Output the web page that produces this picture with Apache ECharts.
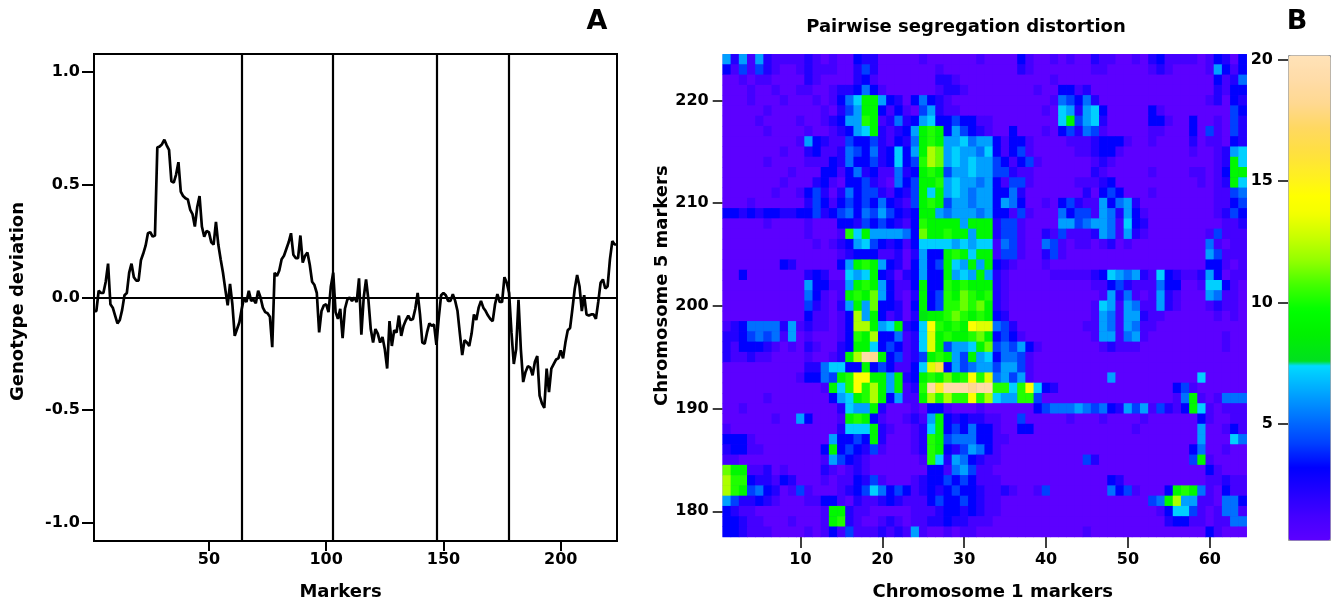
<!DOCTYPE html>
<html><head><meta charset="utf-8">
<script src="https://cdn.jsdelivr.net/npm/echarts@6/dist/echarts.min.js"></script>
<style>html,body{margin:0;padding:0;background:#fff}#c{width:1334px;height:606px}</style>
</head><body><div id="c"></div>
<script>
const FONT = 'DejaVu Sans';

// ---------- Panel A: genotype deviation along markers 1..224 ----------
const genotypeDeviation = [
 -0.06,-0.06,0.03,0.02,0.02,0.07,0.15,-0.03,-0.045,-0.08,
 -0.115,-0.10,-0.055,0.01,0.02,0.11,0.15,0.09,0.075,0.075,
 0.165,0.195,0.23,0.285,0.29,0.27,0.275,0.665,0.67,0.68,
 0.70,0.675,0.655,0.515,0.51,0.545,0.60,0.47,0.45,0.44,
 0.435,0.39,0.37,0.315,0.40,0.45,0.315,0.27,0.295,0.29,
 0.245,0.235,0.335,0.235,0.17,0.11,0.035,-0.035,0.06,-0.03,
 -0.17,-0.14,-0.11,-0.05,0.0,-0.02,0.03,-0.015,-0.01,-0.025,
 0.03,0.0,-0.045,-0.065,-0.07,-0.085,-0.22,0.11,0.095,0.12,
 0.17,0.185,0.215,0.245,0.285,0.19,0.175,0.175,0.275,0.155,
 0.185,0.20,0.145,0.07,0.055,0.02,-0.155,-0.06,-0.035,-0.03,
 -0.065,0.05,0.11,-0.065,-0.095,-0.05,-0.18,-0.05,-0.01,0.0,
 -0.015,0.0,-0.02,0.085,-0.165,0.0,0.08,-0.01,-0.14,-0.20,
 -0.14,-0.16,-0.20,-0.175,-0.23,-0.315,-0.105,-0.215,-0.145,-0.155,
 -0.08,-0.17,-0.125,-0.10,-0.08,-0.10,-0.095,-0.05,0.02,-0.075,
 -0.20,-0.205,-0.155,-0.115,-0.125,-0.12,-0.21,-0.09,0.01,0.02,
 0.01,-0.015,-0.015,0.015,-0.015,-0.06,-0.16,-0.255,-0.19,-0.20,
 -0.215,-0.16,-0.075,-0.10,-0.045,-0.015,-0.045,-0.06,-0.08,-0.095,
 -0.105,-0.03,0.015,-0.02,-0.02,0.09,0.065,0.02,-0.155,-0.295,
 -0.23,-0.01,-0.23,-0.375,-0.33,-0.305,-0.31,-0.345,-0.285,-0.26,
 -0.435,-0.47,-0.49,-0.315,-0.42,-0.315,-0.295,-0.275,-0.27,-0.235,
 -0.27,-0.20,-0.145,-0.135,-0.05,0.04,0.10,0.05,-0.06,0.01,
 -0.075,-0.08,-0.075,-0.075,-0.095,-0.02,0.065,0.08,0.04,0.05,
 0.17,0.25,0.235,0.235
];
const chromosomeBoundaries = [64.2, 103, 147.2, 178];
const markerTicks = [50, 100, 150, 200];
const deviationTicks = [-1, -0.5, 0, 0.5, 1];

// ---------- Panel B: pairwise segregation distortion ----------
const chr1Markers = [1,2,3,4,5,6,7,8,9,10,11,12,13,14,15,16,17,18,19,20,21,22,23,24,25,26,27,28,29,30,31,32,
  33,34,35,36,37,38,39,40,41,42,43,44,45,46,47,48,49,50,51,52,53,54,55,56,57,58,59,60,61,62,63,64];
const chr5Markers = [178,179,180,181,182,183,184,185,186,187,188,189,190,191,192,193,194,195,196,197,198,199,200,
  201,202,203,204,205,206,207,208,209,210,211,212,213,214,215,216,217,218,219,220,221,222,223,224];
// rows listed from chromosome-5 marker 224 (top) down to 178 (bottom); 64 chromosome-1 markers per row
const distortionRows = [
 [6,2,6,1,6,2,1,1, 1,1,2,1,0,1,0,0, 3,2,2,0,0,0,0,0, 1,0,0,0,0,0,0,1, 0,0,0,0,3,1,0,0, 1,0,1,0,0,2,1,1, 0,0,1,0,2,3,1,1, 1,1,0,1,3,2,0,3],
 [3,1,4,1,4,2,1,0, 0,1,2,1,1,1,0,0, 2,4,2,0,0,0,0,0, 0,0,1,0,0,0,0,0, 0,0,0,0,2,1,0,0, 0,0,0,0,0,1,1,0, 0,0,0,0,1,2,1,0, 0,0,0,1,6,3,1,3],
 [0,0,1,0,1,1,0,0, 0,0,2,1,0,0,0,0, 2,3,1,0,0,0,0,0, 0,0,2,2,1,0,0,0, 0,0,0,0,0,0,0,0, 1,0,0,0,0,0,0,0, 0,0,0,0,0,0,0,0, 0,0,0,0,3,1,2,5],
 [0,0,0,1,0,0,1,0, 0,1,1,0,0,1,2,2, 3,5,3,1,0,0,0,0, 0,0,1,2,2,1,0,0, 0,0,0,0,0,0,1,0, 0,3,3,1,2,0,0,0, 0,0,0,0,0,0,0,0, 0,0,0,0,2,1,3,3],
 [0,0,0,1,0,0,0,1, 0,0,0,1,0,1,3,5, 7,9,9,6,3,2,0,3, 5,3,2,1,0,0,0,0, 0,0,0,0,0,0,0,0, 1,5,4,3,5,2,0,0, 0,0,0,0,0,0,0,0, 0,0,0,1,2,0,3,2],
 [0,0,0,0,0,1,0,0, 0,0,0,0,1,0,2,4, 6,9,9,3,1,3,1,0, 4,6,2,1,1,0,0,0, 0,0,0,0,0,0,0,1, 0,7,6,2,6,7,3,0, 0,0,0,0,3,1,0,0, 0,0,0,0,0,0,4,3],
 [0,0,0,0,1,0,0,0, 0,1,0,0,1,2,3,6, 6,10,9,1,2,5,2,3, 6,7,3,3,4,3,3,1, 1,0,0,0,0,0,0,0, 0,7,9,4,6,7,2,0, 0,0,0,0,3,3,1,0, 0,3,0,0,1,0,4,2],
 [0,0,0,0,0,1,0,0, 0,0,1,0,0,1,2,3, 6,7,9,2,1,2,3,6, 9,10,9,3,6,4,3,2, 1,0,0,3,0,0,0,1, 0,3,4,2,5,4,1,0, 0,0,0,0,1,1,0,0, 0,3,0,4,1,0,4,2],
 [0,0,0,0,0,0,0,0, 0,1,6,3,2,1,1,4, 3,3,4,2,1,3,2,5, 9,10,9,6,6,7,5,6, 6,3,1,3,3,1,0,0, 0,0,1,1,1,2,3,3, 3,1,0,0,1,0,0,0, 0,2,0,1,1,0,3,2],
 [0,0,0,0,0,0,0,1, 0,0,2,3,1,1,2,5, 4,3,5,2,3,7,3,6, 9,12,11,6,7,6,6,5, 7,3,1,3,4,1,0,0, 0,0,0,1,1,2,3,3, 1,0,0,0,0,0,0,0, 0,1,0,0,1,2,6,7],
 [0,0,0,0,0,1,0,0, 0,0,1,1,1,3,2,5, 3,3,4,2,3,7,3,4, 10,12,11,6,7,6,7,6, 6,4,3,1,3,4,1,0, 0,0,0,0,0,1,2,1, 0,0,0,0,0,0,0,0, 0,0,0,0,1,2,9,7],
 [0,0,0,0,0,0,0,0, 1,0,0,0,3,3,1,3, 5,2,3,1,1,5,2,3, 9,10,9,4,6,6,7,6, 6,4,4,2,1,1,0,0, 0,0,0,0,0,2,1,0, 0,0,0,0,1,0,0,0, 0,1,1,0,1,3,9,9],
 [0,0,0,0,0,0,0,1, 0,0,0,2,3,1,0,3, 3,4,2,1,0,5,3,4, 9,9,10,6,7,6,6,5, 6,3,1,4,4,1,0,0, 0,0,0,1,1,1,2,3, 0,0,0,0,0,0,0,0, 0,0,1,0,1,2,9,7],
 [0,0,0,0,0,0,1,0, 0,1,3,4,2,0,2,5, 3,4,4,2,1,3,2,4, 9,7,9,6,7,6,5,6, 6,3,3,5,2,0,0,0, 0,0,0,0,2,0,3,4, 3,0,0,0,1,0,0,0, 0,0,0,0,1,1,4,5],
 [0,0,0,1,0,0,0,0, 0,0,2,4,3,1,3,4, 3,4,3,5,3,2,1,4, 9,10,9,4,6,6,5,6, 6,3,6,5,3,0,0,1, 0,3,4,2,1,1,6,3, 5,6,2,0,0,0,0,0, 0,0,0,0,1,1,3,4],
 [3,3,2,3,2,3,3,2, 2,3,3,4,2,3,4,5, 3,5,4,6,4,3,2,3, 9,9,6,5,6,6,6,5, 6,3,3,1,4,1,0,0, 0,5,3,4,4,1,6,5, 2,6,3,1,0,0,0,0, 0,0,0,0,1,2,4,3],
 [0,0,0,0,0,1,0,0, 0,0,1,0,0,0,3,3, 2,4,3,4,3,2,1,3, 10,9,9,9,9,6,9,9, 9,2,4,4,1,0,0,0, 0,6,6,4,5,6,6,5, 1,7,3,2,0,0,0,0, 0,0,0,0,0,1,1,2],
 [0,0,0,0,0,0,0,0, 0,0,1,0,0,0,1,10, 7,9,6,6,6,6,5,3, 11,9,9,10,9,9,6,9, 9,2,4,4,1,0,0,2, 1,4,1,1,1,2,6,5, 1,6,2,1,0,0,0,0, 0,0,0,1,4,1,1,1],
 [0,0,0,0,0,0,0,0, 0,0,0,1,0,1,2,3, 6,7,4,3,2,3,1,3, 7,7,7,7,6,7,6,7, 7,1,5,4,1,0,0,5, 4,1,0,1,1,0,1,2, 0,1,0,0,0,0,0,0, 0,0,0,5,1,0,1,1],
 [0,0,0,0,0,0,0,0, 0,0,0,0,0,0,1,2, 3,3,3,1,1,2,0,2, 6,3,3,9,10,9,7,9, 9,1,4,4,1,0,0,2, 4,1,0,0,0,0,0,0, 0,0,0,0,0,0,0,0, 0,0,0,6,4,1,1,1],
 [0,0,0,0,0,0,0,3, 2,0,0,0,0,0,3,6, 9,10,9,6,3,2,0,3, 6,3,4,9,7,6,9,6, 9,3,2,1,0,0,0,1, 0,0,0,0,0,0,0,0, 0,0,0,0,0,0,0,0, 0,0,0,3,3,1,0,1],
 [0,0,3,0,0,0,0,0, 0,0,2,3,2,0,0,7, 6,7,9,3,2,0,2,3, 6,3,3,9,6,7,6,9, 6,2,1,0,0,0,0,0, 1,1,1,1,1,2,3,7, 6,5,6,2,1,7,3,2, 1,1,2,6,3,0,1,1],
 [0,0,0,0,0,0,0,0, 0,0,6,3,3,1,1,6, 9,10,9,6,3,1,1,3, 9,3,3,10,9,10,9,9, 9,2,1,0,0,0,0,0, 0,0,0,0,0,1,1,3, 4,2,1,1,1,5,3,3, 0,0,1,7,7,3,1,0],
 [0,0,0,0,0,0,0,0, 0,0,5,3,1,0,1,9, 10,9,11,6,3,1,0,2, 9,3,4,10,9,11,10,9, 10,2,1,0,0,0,0,0, 0,0,0,0,0,0,1,6, 2,5,1,0,1,6,2,1, 0,0,0,6,5,1,1,0],
 [0,0,0,0,0,0,0,0, 0,0,4,2,1,0,2,6, 9,6,11,3,3,2,0,3, 9,3,4,10,10,11,10,11, 9,2,1,0,0,0,0,0, 0,0,0,0,0,1,7,6, 1,6,5,1,1,6,2,1, 0,0,0,1,2,1,1,0],
 [0,0,0,0,0,0,0,0, 0,0,3,1,1,0,1,3, 12,6,9,3,1,2,0,2, 8,9,9,10,11,10,9,10, 9,3,2,0,0,0,0,0, 0,0,0,0,0,1,6,5, 1,6,6,2,1,1,0,0, 0,0,0,0,1,0,1,0],
 [1,2,3,5,5,5,5,2, 6,1,2,1,1,0,1,3, 12,12,9,6,7,9,2,3, 7,14,10,9,10,9,14,13, 13,5,4,2,0,0,0,0, 0,0,0,0,1,1,6,5, 1,6,5,1,1,0,0,0, 0,0,0,0,0,0,0,0],
 [2,2,3,4,5,4,5,1, 6,0,1,0,0,0,1,3, 10,9,12,3,3,5,1,2, 7,13,9,10,9,9,10,11, 9,3,4,3,1,0,0,0, 0,0,0,0,0,1,6,6, 1,5,6,1,0,0,0,0, 0,0,0,0,0,1,0,0],
 [2,1,3,3,3,2,1,0, 1,0,2,1,0,0,2,3, 9,9,7,3,4,3,1,2, 7,13,9,4,6,6,7,9, 11,4,5,4,6,3,1,0, 0,0,0,0,0,0,1,2, 1,1,1,0,0,0,0,0, 0,0,0,0,0,1,0,0],
 [2,1,1,2,1,1,0,0, 0,0,1,0,0,1,2,9, 12,19,18,9,3,4,1,2, 4,9,10,9,6,4,9,6, 7,3,5,5,4,1,0,0, 0,0,0,0,0,0,0,0, 0,0,0,0,0,0,0,0, 0,0,0,0,0,0,0,0],
 [0,0,0,0,0,0,0,0, 0,0,2,2,5,7,7,3, 3,9,3,4,3,1,1,3, 7,13,16,3,6,4,5,6, 6,4,6,6,4,1,0,0, 0,0,0,0,0,0,0,0, 0,0,0,0,0,0,0,0, 0,0,0,0,0,0,0,0],
 [0,0,0,0,0,0,0,0, 0,1,3,3,5,4,9,10, 14,14,9,9,6,9,2,3, 9,10,9,11,9,10,14,10, 13,5,6,4,6,1,0,0, 0,0,0,0,0,0,0,6, 0,0,0,0,0,0,0,0, 0,0,7,0,0,0,0,0],
 [0,0,0,0,0,0,0,0, 0,0,0,0,1,9,7,10, 14,10,12,9,6,9,1,2, 10,19,15,19,19,19,18,19, 19,10,10,7,10,14,7,3, 2,0,0,0,0,0,0,0, 0,0,0,0,0,0,0,3, 4,1,0,0,0,0,0,0],
 [0,0,0,0,0,1,0,0, 0,0,0,0,0,3,6,7, 9,10,12,9,3,6,1,1, 9,12,10,12,10,10,14,10, 12,7,6,6,10,10,4,0, 0,0,0,0,0,0,0,0, 0,0,0,0,0,0,0,1, 5,9,1,0,1,5,5,5],
 [0,0,1,0,0,0,0,0, 0,0,0,0,0,0,2,7, 6,6,9,2,0,0,0,1, 0,3,3,1,0,0,0,1, 0,0,0,0,0,0,3,4, 5,5,5,6,5,4,5,3, 2,6,4,6,1,4,2,1, 3,9,7,1,0,1,1,1],
 [0,0,0,0,0,0,1,0, 0,6,3,0,0,0,1,9, 10,9,3,1,0,0,1,2, 1,6,9,3,2,3,2,2, 1,1,0,0,4,0,0,0, 0,0,1,0,0,0,1,0, 0,0,0,1,0,0,0,0, 0,0,3,1,0,0,1,1],
 [1,0,0,0,0,0,0,0, 0,0,0,0,0,0,2,7, 7,7,9,2,1,0,0,1, 2,7,9,3,4,3,5,3, 3,1,0,0,3,3,0,0, 0,0,0,0,0,0,0,0, 0,0,1,0,0,0,0,0, 0,0,6,0,0,1,3,1],
 [3,3,3,1,0,0,0,0, 0,0,0,0,0,6,3,3, 4,3,9,2,0,0,0,1, 2,10,9,4,5,5,5,3, 3,1,1,0,0,0,0,0, 0,0,0,0,0,0,0,0, 0,0,0,0,0,0,0,0, 0,0,6,0,0,0,7,5],
 [2,3,3,1,1,0,0,0, 0,0,0,0,3,9,3,4, 3,2,4,1,0,0,0,1, 2,10,9,3,2,4,6,5, 3,1,0,0,0,0,0,0, 0,0,0,0,0,0,0,0, 0,0,0,0,0,0,0,0, 0,3,5,0,0,1,0,0],
 [1,1,0,0,0,0,0,0, 0,0,0,0,1,6,4,3, 2,1,0,0,0,0,0,0, 1,10,7,2,6,5,3,2, 1,1,0,0,0,0,0,0, 0,0,0,0,4,2,0,0, 0,0,0,0,0,0,0,0, 0,4,9,1,0,0,0,0],
 [11,9,9,1,1,2,0,1, 0,0,0,0,2,1,0,1, 2,1,0,0,0,0,0,0, 0,3,3,1,5,6,4,1, 1,0,0,0,0,0,0,0, 0,0,0,0,0,0,0,0, 0,0,0,0,0,0,0,0, 0,0,0,3,1,0,0,0],
 [12,10,10,3,2,2,1,3, 2,0,0,0,1,0,1,1, 3,2,4,1,0,0,0,1, 2,3,3,4,3,4,3,1, 1,1,0,0,0,0,0,0, 0,0,0,0,0,0,0,3, 2,0,0,0,0,0,0,0, 0,0,0,1,1,2,1,1],
 [12,10,9,4,5,3,2,0, 1,4,1,0,0,0,1,2, 3,4,7,5,3,4,3,1, 2,3,2,3,4,3,3,2, 1,1,2,1,0,0,1,4, 0,0,0,0,0,0,0,5, 3,4,1,0,0,0,3,9, 10,9,5,1,0,3,1,1],
 [6,4,2,2,3,2,1,0, 0,0,1,1,3,3,1,0, 2,1,1,2,3,2,1,1, 1,3,4,3,3,4,3,2, 1,1,0,0,0,0,0,0, 0,0,0,0,0,0,0,0, 0,0,0,0,4,5,9,12, 6,6,1,1,0,5,5,3],
 [3,2,1,1,0,0,0,0, 0,0,0,0,1,9,9,2, 1,1,0,0,0,0,0,1, 1,1,2,3,3,2,3,2, 1,1,0,0,0,0,0,0, 0,0,0,0,0,0,0,0, 0,0,0,0,0,1,3,7, 7,4,1,0,1,5,5,1],
 [3,3,2,1,1,0,0,0, 1,0,0,0,1,9,10,2, 1,0,0,1,2,1,0,1, 1,2,2,3,2,2,1,1, 1,0,0,0,0,0,0,0, 0,0,0,0,0,0,0,0, 0,0,0,0,0,0,2,3, 3,1,1,0,1,1,5,5],
 [3,3,2,1,1,1,0,0, 0,0,1,0,1,3,1,4, 1,1,1,2,1,2,1,6, 1,0,0,1,0,1,1,0, 0,0,0,0,0,0,0,0, 0,0,0,0,1,0,0,0, 0,0,0,0,0,0,0,0, 0,0,0,3,1,0,0,0]
];
const colorbarTicks = [5, 10, 15, 20];
const colorStops = [
 [0,'#5c00ff'],[1,'#4400ff'],[2,'#2200ff'],[3,'#0000ff'],[4,'#0040ff'],[5,'#0070ff'],
 [6,'#00a0ff'],[7,'#00d0ff'],[7.35,'#00e4ff'],[7.4,'#00e020'],[8.5,'#00f000'],[9.5,'#00ff00'],
 [10.5,'#40ff00'],[11.5,'#90ff00'],[12.5,'#c8ff00'],[13.5,'#f4ff00'],[14.2,'#ffff00'],[15,'#fff020'],
 [16,'#ffe040'],[17,'#ffd860'],[18,'#ffd890'],[19,'#ffdca8'],[20,'#ffe2b8']
];

// ---------- build ----------
function hexRgb(h){return [parseInt(h.slice(1,3),16),parseInt(h.slice(3,5),16),parseInt(h.slice(5,7),16)];}
const palette = [];
for (let i = 0; i <= 200; i++) {
  const v = i / 10;
  let k = 0;
  while (k < colorStops.length - 2 && colorStops[k + 1][0] < v) k++;
  const [v0, c0] = colorStops[k], [v1, c1] = colorStops[k + 1];
  const t = Math.max(0, Math.min(1, (v - v0) / (v1 - v0)));
  const a = hexRgb(c0), b = hexRgb(c1);
  palette.push('rgb(' + a.map((x, j) => Math.round(x + (b[j] - x) * t)).join(',') + ')');
}

const lineData = genotypeDeviation.map((v, i) => [i + 1, v]);
const heatData = [];
distortionRows.forEach((row, ri) => {
  const yi = chr5Markers.indexOf(224 - ri);
  row.forEach((v, ci) => heatData.push([ci, yi, v]));
});

const lbl = {color: '#000', fontFamily: FONT, fontWeight: 'bold', fontSize: 16};
const nameStyle = {color: '#000', fontFamily: FONT, fontWeight: 'bold', fontSize: 18};
const everyTen = (idx, val) => Number(val) % 10 === 0;

const chart = echarts.init(document.getElementById('c'), null, {renderer: 'canvas'});
chart.setOption({
  animation: false,
  backgroundColor: '#fff',
  grid: [
    {left: 94, top: 54, width: 523, height: 489, show: true, borderColor: '#000', borderWidth: 2, backgroundColor: 'transparent'},
    {left: 722.7, top: 54.3, width: 524, height: 485, show: true, borderWidth: 0, backgroundColor: '#5000ff'},
    {left: 1288, top: 55, width: 42, height: 485}
  ],
  xAxis: [
    {type: 'value', gridIndex: 0, min: 1, max: 224,
     axisLine: {show: true, onZero: false, lineStyle: {color: '#000', width: 2}},
     axisTick: {show: true, customValues: markerTicks, length: 10, lineStyle: {color: '#000', width: 2}},
     axisLabel: Object.assign({customValues: markerTicks, margin: 11}, lbl),
     splitLine: {show: false},
     name: 'Markers', nameLocation: 'middle', nameGap: 42,
     nameTextStyle: Object.assign({padding: [0, 30, 0, 0]}, nameStyle)},
    {type: 'category', gridIndex: 1, data: chr1Markers.map(String), boundaryGap: true,
     axisLine: {show: false},
     axisTick: {show: true, alignWithLabel: true, interval: everyTen, length: 11, lineStyle: {color: '#000', width: 1.5}},
     axisLabel: Object.assign({interval: everyTen, margin: 15}, lbl),
     splitLine: {show: false},
     name: 'Chromosome 1 markers', nameLocation: 'middle', nameGap: 46,
     nameTextStyle: Object.assign({padding: [0, 0, 0, 16]}, nameStyle)},
    {type: 'value', gridIndex: 2, show: false, min: 0, max: 1}
  ],
  yAxis: [
    {type: 'value', gridIndex: 0, min: -1.08, max: 1.08,
     axisLine: {show: true, onZero: false, lineStyle: {color: '#000', width: 2}},
     axisTick: {show: true, customValues: deviationTicks, length: 12, lineStyle: {color: '#000', width: 2}},
     axisLabel: Object.assign({customValues: deviationTicks, margin: 14, formatter: v => Number(v).toFixed(1)}, lbl),
     splitLine: {show: false},
     name: 'Genotype deviation', nameLocation: 'middle', nameGap: 67, nameRotate: 90,
     nameTextStyle: Object.assign({padding: [0, 8, 0, 0]}, nameStyle)},
    {type: 'category', gridIndex: 1, data: chr5Markers.map(String), boundaryGap: true,
     axisLine: {show: false},
     axisTick: {show: true, alignWithLabel: true, interval: everyTen, length: 10, lineStyle: {color: '#000', width: 1.5}},
     axisLabel: Object.assign({interval: everyTen, margin: 14}, lbl),
     splitLine: {show: false},
     name: 'Chromosome 5 markers', nameLocation: 'middle', nameGap: 50, nameRotate: 90,
     nameTextStyle: Object.assign({padding: [0, 0, 0, 20]}, nameStyle)},
    {type: 'value', gridIndex: 2, min: 0.2, max: 20.2,
     axisLine: {show: false},
     axisTick: {show: true, customValues: colorbarTicks, length: 10, lineStyle: {color: '#000', width: 1.5}},
     axisLabel: Object.assign({customValues: colorbarTicks, margin: 15}, lbl),
     splitLine: {show: false}}
  ],
  visualMap: {
    type: 'continuous', min: 0, max: 20, seriesIndex: 1, dimension: 2,
    inRange: {color: palette}, calculable: false, hoverLink: false,
    orient: 'vertical', left: 1288, top: 55, itemWidth: 42, itemHeight: 485,
    padding: 0, borderColor: '#999', borderWidth: 1
  },
  series: [
    {type: 'line', xAxisIndex: 0, yAxisIndex: 0, data: lineData, symbol: 'none', showSymbol: false,
     lineStyle: {color: '#000', width: 2.7}, silent: true,
     markLine: {silent: true, symbol: ['none', 'none'], label: {show: false},
       lineStyle: {color: '#000', width: 2.2, type: 'solid'},
       data: [{yAxis: 0}].concat(chromosomeBoundaries.map(b => ({xAxis: b})))}},
    {type: 'heatmap', xAxisIndex: 1, yAxisIndex: 1, data: heatData, progressive: 0,
     itemStyle: {borderWidth: 0}, emphasis: {disabled: true}, silent: true}
  ],
  graphic: [
    {type: 'text', x: 597, y: 22, style: {text: 'A', font: 'bold 27px "DejaVu Sans"', fill: '#000', align: 'center', verticalAlign: 'middle'}},
    {type: 'text', x: 1297, y: 22, style: {text: 'B', font: 'bold 27px "DejaVu Sans"', fill: '#000', align: 'center', verticalAlign: 'middle'}},
    {type: 'text', x: 966, y: 27, style: {text: 'Pairwise segregation distortion', font: 'bold 18px "DejaVu Sans"', fill: '#000', align: 'center', verticalAlign: 'middle'}}
  ]
});
</script></body></html>
